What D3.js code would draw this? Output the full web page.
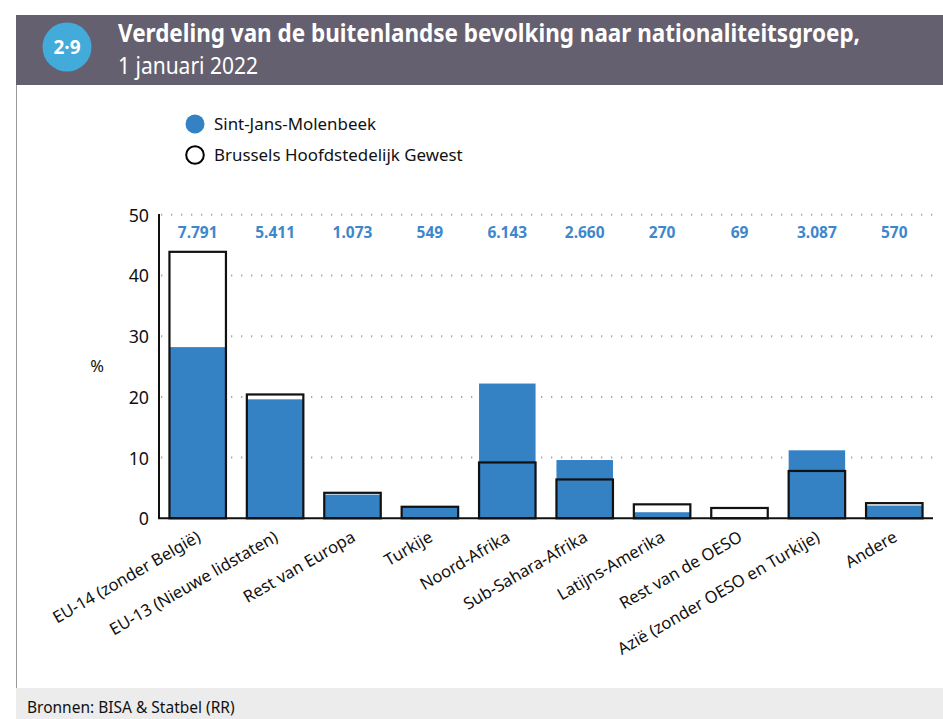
<!DOCTYPE html>
<html><head><meta charset="utf-8">
<script src="https://cdn.jsdelivr.net/npm/d3@7"></script>
<style>body{margin:0;background:#fff;} svg{display:block;}</style>
</head><body>
<svg id="chart" width="943" height="719"></svg>
<script>
const categories = ["EU-14 (zonder België)","EU-13 (Nieuwe lidstaten)","Rest van Europa","Turkije","Noord-Afrika","Sub-Sahara-Afrika","Latijns-Amerika","Rest van de OESO","Azië (zonder OESO en Turkije)","Andere"];
const molenbeek = [28.2,19.6,3.9,2.0,22.2,9.6,1.0,0.2,11.2,2.1];
const brussels = [43.9,20.4,4.2,1.9,9.2,6.4,2.3,1.7,7.8,2.5];
const counts = ["7.791","5.411","1.073","549","6.143","2.660","270","69","3.087","570"];
const yTicks = [0,10,20,30,40,50];
const seriesNames = ["Sint-Jans-Molenbeek","Brussels Hoofdstedelijk Gewest"];

const svg = d3.select("#chart");
const BLUE = "#3481c4", FONT = "'Noto Sans', 'Open Sans', sans-serif", NARROW = "'Liberation Sans Narrow', 'Noto Sans', sans-serif";

// frame
svg.append("rect").attr("x",16).attr("y",15).attr("width",927).attr("height",70).attr("fill","#65606f");
svg.append("line").attr("x1",16.5).attr("x2",16.5).attr("y1",85).attr("y2",688).attr("stroke","#9a9a9a");
svg.append("rect").attr("x",16).attr("y",688).attr("width",927).attr("height",31).attr("fill","#ececec");
svg.append("text").attr("x",27).attr("y",713).attr("font-family",FONT).attr("font-size",15.5).attr("fill","#111").text("Bronnen: BISA & Statbel (RR)");

// header
svg.append("circle").attr("cx",67).attr("cy",47).attr("r",24.5).attr("fill","#42abd9");
svg.append("text").attr("x",67).attr("y",54).attr("text-anchor","middle").attr("font-family",NARROW).attr("font-weight","bold").attr("font-size",19).attr("fill","#fff").text("2·9");
svg.append("text").attr("x",118).attr("y",42).attr("font-family",NARROW).attr("font-weight","bold").attr("font-size",25).attr("fill","#fff")
  .attr("textLength",742).attr("lengthAdjust","spacingAndGlyphs").text("Verdeling van de buitenlandse bevolking naar nationaliteitsgroep,");
svg.append("text").attr("x",118).attr("y",74).attr("font-family",NARROW).attr("font-size",24).attr("fill","#fff")
  .attr("textLength",140).attr("lengthAdjust","spacingAndGlyphs").text("1 januari 2022");

// legend
const leg = svg.append("g");
leg.append("circle").attr("cx",195).attr("cy",124).attr("r",9.5).attr("fill",BLUE);
leg.append("circle").attr("cx",195).attr("cy",155).attr("r",8.8).attr("fill","#fff").attr("stroke","#000").attr("stroke-width",2);
leg.append("text").attr("x",214).attr("y",130).attr("font-family",FONT).attr("font-size",16.9).attr("fill","#111").text(seriesNames[0]);
leg.append("text").attr("x",214).attr("y",161).attr("font-family",FONT).attr("font-size",16.9).attr("fill","#111").text(seriesNames[1]);

// scales
const x = d3.scaleBand().domain(categories).range([159,933]).paddingInner(0.27).paddingOuter(0.135);
const y = d3.scaleLinear().domain([0,50]).range([518.3,214.8]);

// grid
svg.append("g").selectAll("line").data(yTicks.filter(d=>d>0)).join("line")
  .attr("x1",161).attr("x2",933).attr("y1",d=>y(d)).attr("y2",d=>y(d))
  .attr("stroke","#a8a8a8").attr("stroke-width",2).attr("stroke-dasharray","1.3,8.7");

// bars
const g = svg.append("g");
g.selectAll("rect.bw").data(categories).join("rect").attr("class","bw")
  .attr("x",d=>x(d)).attr("width",x.bandwidth())
  .attr("y",(d,i)=>y(brussels[i])).attr("height",(d,i)=>y(0)-y(brussels[i])).attr("fill","#fff");
g.selectAll("rect.mb").data(categories).join("rect").attr("class","mb")
  .attr("x",d=>x(d)).attr("width",x.bandwidth())
  .attr("y",(d,i)=>y(molenbeek[i])).attr("height",(d,i)=>y(0)-y(molenbeek[i])).attr("fill",BLUE);
g.selectAll("rect.bo").data(categories).join("rect").attr("class","bo")
  .attr("x",d=>x(d)).attr("width",x.bandwidth())
  .attr("y",(d,i)=>y(brussels[i])).attr("height",(d,i)=>y(0)-y(brussels[i]))
  .attr("fill","none").attr("stroke","#111").attr("stroke-width",2.2);

// axes
const yAxis = svg.append("g").attr("transform","translate(159,0)")
  .call(d3.axisLeft(y).tickValues(yTicks).tickSize(0).tickPadding(10));
yAxis.select(".domain").attr("stroke","#111").attr("stroke-width",2).attr("d","M0,214V518.3");
yAxis.selectAll("text").attr("font-family",FONT).attr("font-size",17.8).attr("fill","#111").attr("dy","0.36em");
svg.append("line").attr("x1",158).attr("x2",933).attr("y1",y(0)).attr("y2",y(0)).attr("stroke","#111").attr("stroke-width",2);
svg.append("text").attr("x",97).attr("y",372).attr("text-anchor","middle").attr("font-family",FONT).attr("font-size",16.5).attr("fill","#111").text("%");

const xAxis = svg.append("g").attr("transform",`translate(0,${y(0)})`)
  .call(d3.axisBottom(x).tickSize(0).tickPadding(0));
xAxis.select(".domain").remove();
xAxis.selectAll("text")
  .attr("font-family",FONT).attr("font-size",16.6).attr("fill","#111")
  .attr("text-anchor","end").attr("dy",0).attr("y",0)
  .attr("transform","translate(4,22) rotate(-30)");

// count labels
svg.append("g").selectAll("text").data(categories).join("text")
  .attr("x",d=>x(d)+x.bandwidth()/2).attr("y",238).attr("text-anchor","middle")
  .attr("font-family",NARROW).attr("font-weight","bold").attr("font-size",15.5).attr("fill","#3d87cc")
  .text((d,i)=>counts[i]);
</script>
</body></html>
